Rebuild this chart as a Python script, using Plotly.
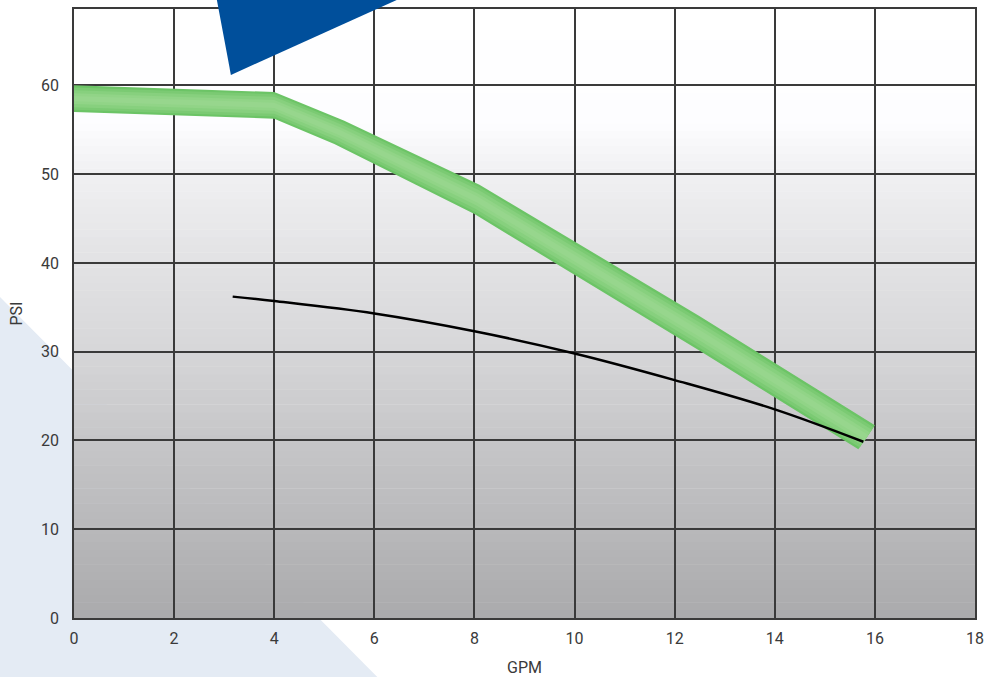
import numpy as np
import plotly.graph_objects as go

# Data (GPM vs PSI)
band_upper_x = [0, 4, 5.4, 8.1, 12.5, 16.0]
band_upper_y = [60.0, 59.25, 56.0, 48.8, 34.0, 21.7]
band_lower_x = [0, 4, 5.2, 8.0, 12.5, 15.67]
band_lower_y = [57.0, 56.25, 53.4, 45.5, 30.1, 19.0]

curve_x = [3.17, 4, 6, 8, 10, 12, 14, 15.77]
curve_y = [36.2, 35.7, 34.3, 32.3, 29.8, 26.8, 23.5, 19.85]

x_ticks = [0, 2, 4, 6, 8, 10, 12, 14, 16, 18]
y_ticks = [0, 10, 20, 30, 40, 50, 60]
Y_MAX = 68.6
X_MAX = 18

# background gradient stops (PSI -> grey)
grad_psi = [0, 10, 20, 30, 40, 50, 56, 68.6]
grad_grey = [170, 184, 198, 214, 226, 240, 253, 255]

W, H = 985, 677
ML, MR, MT, MB = 74, 9.5, 9, 58.7
PW, PH = W - ML - MR, H - MT - MB

def px(x): return (x - ML) / PW
def py(y): return (H - MB - y) / PH

fig = go.Figure()
shapes = []
# light blue triangle (decoration)
shapes.append(dict(type="path", xref="paper", yref="paper", layer="below",
                   path=f"M {px(-20)} {py(277)} L {px(-20)} {py(697)} L {px(397)} {py(697)} Z",
                   fillcolor="#e4ebf4", line=dict(width=0)))

# gradient background strips
n = 80
edges = np.linspace(0, Y_MAX, n + 1)
for i in range(n):
    mid = (edges[i] + edges[i + 1]) / 2
    g = int(round(np.interp(mid, grad_psi, grad_grey)))
    col = f"rgb({g},{g},{min(255, g + 2)})"
    shapes.append(dict(type="rect", xref="x", yref="y", layer="below",
                       x0=0, x1=X_MAX, y0=edges[i], y1=edges[i + 1] + 0.05,
                       fillcolor=col, line=dict(width=0)))

# dark blue polygon on top
shapes.append(dict(type="path", xref="paper", yref="paper", layer="above",
                   path=f"M {px(215.1)} {py(-10)} L {px(231)} {py(75)} L {px(419)} {py(-10)} Z",
                   fillcolor="#004f9b", line=dict(width=0)))

# green band
ux, uy = np.array(band_upper_x), np.array(band_upper_y)
lx, ly = np.array(band_lower_x), np.array(band_lower_y)
fig.add_trace(go.Scatter(x=list(ux) + list(lx[::-1]), y=list(uy) + list(ly[::-1]),
                         fill="toself", fillcolor="#6cc466", mode="none",
                         hoverinfo="skip", showlegend=False))
for t, col in [(0.08, "#7bca73"), (0.18, "#87d07e"), (0.3, "#91d487"), (0.4, "#97d68d")]:
    iux, iuy = ux + t * (lx - ux), uy + t * (ly - uy)
    ilx, ily = ux + (1 - t) * (lx - ux), uy + (1 - t) * (ly - uy)
    fig.add_trace(go.Scatter(x=list(iux) + list(ilx[::-1]), y=list(iuy) + list(ily[::-1]),
                             fill="toself", fillcolor=col, mode="none",
                             hoverinfo="skip", showlegend=False))

# black curve
fig.add_trace(go.Scatter(x=curve_x, y=curve_y, mode="lines",
                         line=dict(color="#000000", width=2.5, shape="spline"),
                         showlegend=False))

font = dict(family="Roboto, 'DejaVu Sans', sans-serif", size=16, color="#3a3a3a")
fig.update_layout(
    width=W, height=H,
    margin=dict(l=ML, r=MR, t=MT, b=MB, pad=0),
    paper_bgcolor="white", plot_bgcolor="rgba(0,0,0,0)",
    shapes=shapes, font=font, showlegend=False,
    xaxis=dict(range=[0, X_MAX], tickvals=x_ticks, ticktext=[str(v) for v in x_ticks],
               showgrid=True, gridcolor="#3a3a3a", gridwidth=1.5,
               showline=True, linecolor="#3a3a3a", linewidth=1.5, mirror=True,
               zeroline=False, ticks="", ticklabelstandoff=5, automargin=False,
               tickfont=font,
               title=dict(text="GPM", standoff=16, font=font)),
    yaxis=dict(range=[0, Y_MAX], tickvals=y_ticks, ticktext=[str(v) for v in y_ticks],
               showgrid=True, gridcolor="#3a3a3a", gridwidth=1.5,
               showline=True, linecolor="#3a3a3a", linewidth=1.5, mirror=True,
               zeroline=False, ticks="", ticklabelstandoff=10, automargin=False,
               tickfont=font,
               title=dict(text="PSI", standoff=14, font=font)),
)

post = "document.body.style.margin='0';document.body.style.overflow='hidden';"
fig.write_html("out.html", config={"displayModeBar": False}, post_script=post)
